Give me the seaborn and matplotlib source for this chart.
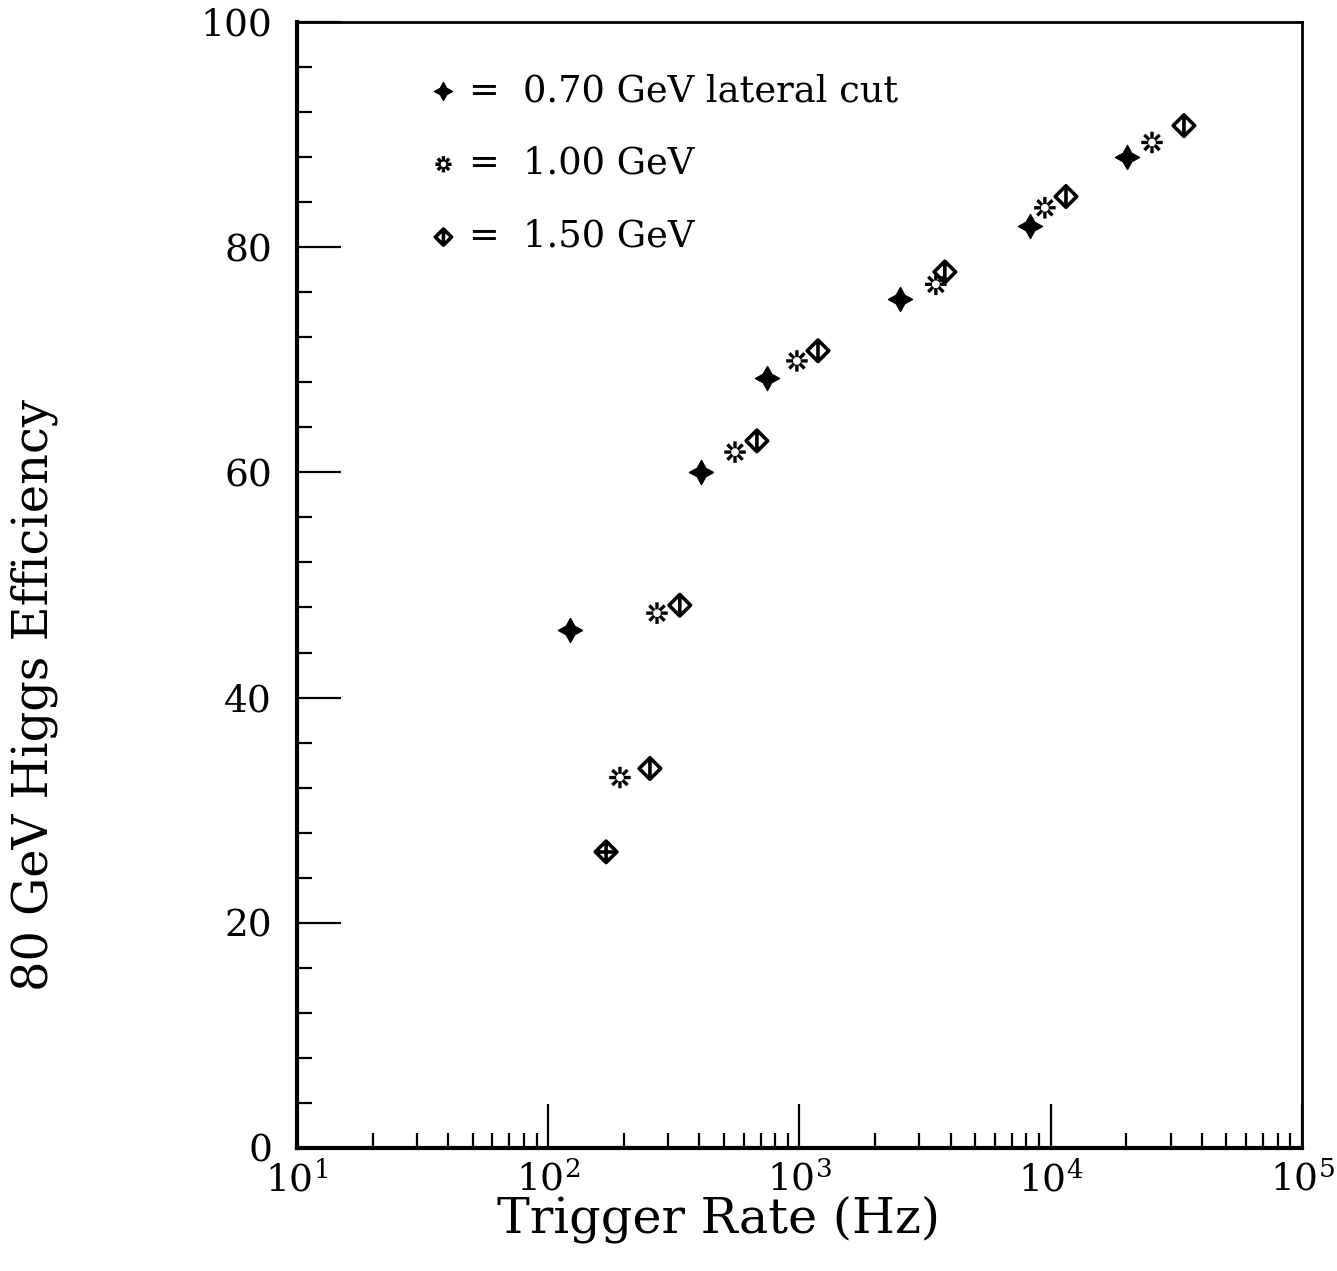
import numpy as np
import matplotlib
matplotlib.use("Agg")
import matplotlib.pyplot as plt
import seaborn as sns
import pandas as pd
from matplotlib.path import Path
from matplotlib.ticker import LogLocator, MultipleLocator, NullFormatter

# =========================================================
# DATA
# =========================================================

plus_rate = [122, 405, 743, 2512, 8270, 20100]
plus_eff = [46.0, 60.0, 68.4, 75.4, 81.9, 88.0]

star_rate = [193, 271, 554, 977, 3490, 9480, 25300]
star_eff = [32.9, 47.5, 61.8, 69.9, 76.7, 83.5, 89.3]

dia_rate = [170, 254, 334, 677, 1185, 3790, 11500, 33900]
dia_eff = [26.3, 33.7, 48.2, 62.8, 70.8, 77.8, 84.5, 90.8]

labels = ["=  0.70 GeV lateral cut", "=  1.00 GeV", "=  1.50 GeV"]

# =========================================================
# MARKERS
# =========================================================

# broken asterisk: 8 short radial dashes
verts, codes = [], []
for ang in np.arange(0, 360, 45):
    a = np.deg2rad(ang)
    verts += [(0.35 * np.cos(a), 0.35 * np.sin(a)), (np.cos(a), np.sin(a))]
    codes += [Path.MOVETO, Path.LINETO]
star_marker = Path(verts, codes)

# diamond with a vertical bar inside
dia_marker = Path(
    [(0, 1), (1, 0), (0, -1), (-1, 0), (0, 1), (0, 0.8), (0, -0.8)],
    [Path.MOVETO, Path.LINETO, Path.LINETO, Path.LINETO, Path.CLOSEPOLY,
     Path.MOVETO, Path.LINETO],
)

# =========================================================
# PLOT
# =========================================================

sns.set_style("ticks")
plt.rcParams["font.family"] = ["DejaVu Serif"]
plt.rcParams["mathtext.fontset"] = "dejavuserif"
plt.rcParams["text.color"] = "black"
plt.rcParams["axes.labelcolor"] = "black"

fig = plt.figure(figsize=(13.37, 12.71), dpi=100)
ax = fig.add_axes([0.2221, 0.0968, 0.7517, 0.8859])

sns.scatterplot(
    x=plus_rate, y=plus_eff, ax=ax, marker=(4, 1, 0), s=300,
    color="black", edgecolor="black", linewidth=1.0, label=labels[0]
)
sns.scatterplot(
    x=star_rate, y=star_eff, ax=ax, marker=star_marker, s=240,
    color="black", edgecolor="black", facecolor="none", linewidth=2.4,
    label=labels[1]
)
sns.scatterplot(
    x=dia_rate, y=dia_eff, ax=ax, marker=dia_marker, s=240,
    facecolor="none", edgecolor="black", linewidth=2.6, label=labels[2]
)
# lowest diamond also shows a horizontal bar
ax.scatter(dia_rate[:1], dia_eff[:1], marker="_", s=180,
           color="black", linewidths=2.6)

ax.set_xscale("log")
ax.set_xlim(10, 1e5)
ax.set_ylim(0, 100)

ax.xaxis.set_major_locator(LogLocator(base=10, numticks=10))
ax.xaxis.set_minor_locator(LogLocator(base=10, subs=np.arange(2, 10), numticks=50))
ax.xaxis.set_minor_formatter(NullFormatter())
ax.yaxis.set_major_locator(MultipleLocator(20))
ax.yaxis.set_minor_locator(MultipleLocator(4))

ax.tick_params(axis="both", which="major", direction="in", length=32,
               width=1.6, labelsize=27, color="black", labelcolor="black")
ax.tick_params(axis="both", which="minor", direction="in", length=11,
               width=1.6, color="black")
ax.tick_params(axis="y", which="major", pad=18)
ax.tick_params(axis="x", which="major", pad=10)
ax.tick_params(top=False, right=False, which="both")

for side in ["left", "bottom"]:
    ax.spines[side].set_linewidth(3.0)
for side in ["top", "right"]:
    ax.spines[side].set_linewidth(2.0)
for sp in ax.spines.values():
    sp.set_color("black")
    sp.set_visible(True)

ax.set_xlabel("Trigger Rate (Hz)", fontsize=35.5)
ax.set_ylabel("80 GeV Higgs Efficiency", fontsize=34.5)
ax.xaxis.set_label_coords(0.419, -0.042)
ax.yaxis.set_label_coords(-0.238, 0.402)

ax.legend(
    loc="upper left", bbox_to_anchor=(0.100, 0.984), frameon=False,
    fontsize=26.5, handlelength=0.7, handletextpad=0.35, labelspacing=1.0,
    markerscale=0.75
)

fig.savefig("out.png", dpi=100)
plt.close(fig)
